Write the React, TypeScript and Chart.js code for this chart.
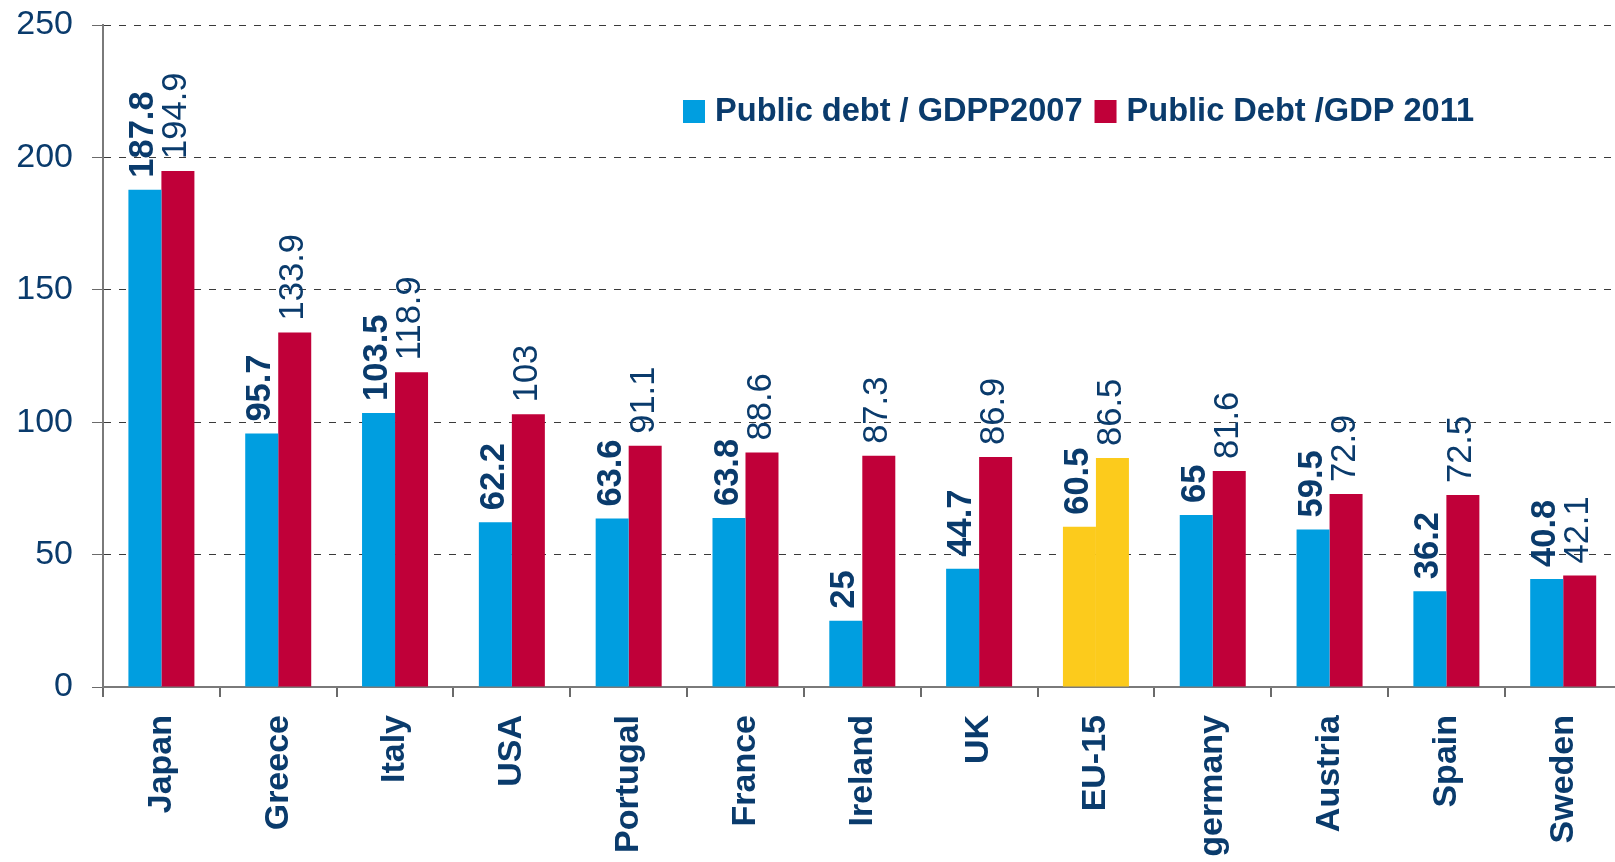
import React, { useEffect, useRef } from "react";
import { Chart, registerables } from "chart.js";

Chart.register(...registerables);

const categories = ["Japan", "Greece", "Italy", "USA", "Portugal", "France", "Ireland", "UK", "EU-15", "germany", "Austria", "Spain", "Sweden"];
const debt2007 = [187.8, 95.7, 103.5, 62.2, 63.6, 63.8, 25, 44.7, 60.5, 65, 59.5, 36.2, 40.8];
const debt2011 = [194.9, 133.9, 118.9, 103, 91.1, 88.6, 87.3, 86.9, 86.5, 81.6, 72.9, 72.5, 42.1];
const seriesLabels = ["Public debt / GDPP2007", "Public Debt /GDP 2011"];
const yMin = 0;
const yMax = 250;
const yStep = 50;
const highlightCategory = "EU-15";

const NAVY = "#0a3b6c";
const BLUE = "#009ee0";
const RED = "#c00039";
const YELLOW = "#fccb1c";
const FONT = "'Liberation Sans', Arial, sans-serif";

const rotatedLabels = {
  id: "rotatedLabels",
  afterDatasetsDraw(chart: any) {
    const ctx = chart.ctx;
    chart.data.datasets.forEach((ds: any, di: number) => {
      const meta = chart.getDatasetMeta(di);
      meta.data.forEach((bar: any, i: number) => {
        ctx.save();
        ctx.translate(bar.x - 1, bar.y - 12);
        ctx.rotate(-Math.PI / 2);
        ctx.font = `${di === 0 ? "bold " : ""}34.5px ${FONT}`;
        ctx.fillStyle = NAVY;
        ctx.textAlign = "left";
        ctx.textBaseline = "middle";
        ctx.fillText(String(ds.data[i]), 0, 0);
        ctx.restore();
      });
    });
  },
};

const customLegend = {
  id: "customLegend",
  afterDraw(chart: any) {
    const ctx = chart.ctx;
    const colors = [BLUE, RED];
    let x = 683;
    const yc = 111;
    ctx.save();
    ctx.font = `bold 32.6px ${FONT}`;
    ctx.textBaseline = "middle";
    ctx.textAlign = "left";
    chart.data.datasets.forEach((ds: any, di: number) => {
      ctx.fillStyle = colors[di];
      ctx.fillRect(x, yc - 11, 22, 23);
      x += 32;
      ctx.fillStyle = NAVY;
      ctx.fillText(ds.label, x, yc + 1);
      x += ctx.measureText(ds.label).width + 12;
    });
    ctx.restore();
  },
};

export default function App() {
  const ref = useRef<HTMLCanvasElement>(null);
  useEffect(() => {
    const canvas = ref.current!;
    const chart = new Chart(canvas, {
      type: "bar",
      data: {
        labels: categories,
        datasets: [
          {
            label: seriesLabels[0],
            data: debt2007,
            backgroundColor: categories.map((c) => (c === highlightCategory ? YELLOW : BLUE)),
            barPercentage: 1,
            categoryPercentage: 0.565,
          },
          {
            label: seriesLabels[1],
            data: debt2011,
            backgroundColor: categories.map((c) => (c === highlightCategory ? YELLOW : RED)),
            barPercentage: 1,
            categoryPercentage: 0.565,
          },
        ],
      },
      options: {
        responsive: false,
        animation: false,
        layout: { padding: { top: 25, left: 0, right: 0, bottom: 0 } },
        plugins: { legend: { display: false }, tooltip: { enabled: false } },
        scales: {
          x: {
            afterFit: (s: any) => {
              s.height = 175;
            },
            border: { color: "#7a7a7a", width: 2 },
            grid: { drawOnChartArea: false, offset: true, tickLength: 10, color: "#6a6a6a", lineWidth: 2 },
            ticks: {
              autoSkip: false,
              minRotation: 90,
              maxRotation: 90,
              padding: 18,
              color: NAVY,
              font: { family: FONT, size: 34, weight: "bold" },
            },
          },
          y: {
            min: yMin,
            max: yMax,
            afterFit: (s: any) => {
              s.width = 103;
              s.paddingTop = 0;
              s.paddingBottom = 0;
            },
            border: { color: "#7a7a7a", width: 2, dash: [7, 8] },
            grid: {
              color: "#3a3a3a",
              lineWidth: 1,
              tickLength: 11,
              tickColor: "#6a6a6a",
            },
            ticks: {
              stepSize: yStep,
              padding: 19,
              color: NAVY,
              font: { family: FONT, size: 34 },
            },
          },
        },
      },
      plugins: [rotatedLabels, customLegend],
    } as any);
    return () => chart.destroy();
  }, []);
  return (
    <div style={{ position: "fixed", left: 0, top: 0, width: 1615, height: 862, overflow: "hidden", background: "#fff" }}>
      <canvas ref={ref} width={1622} height={862} style={{ display: "block" }} />
    </div>
  );
}
